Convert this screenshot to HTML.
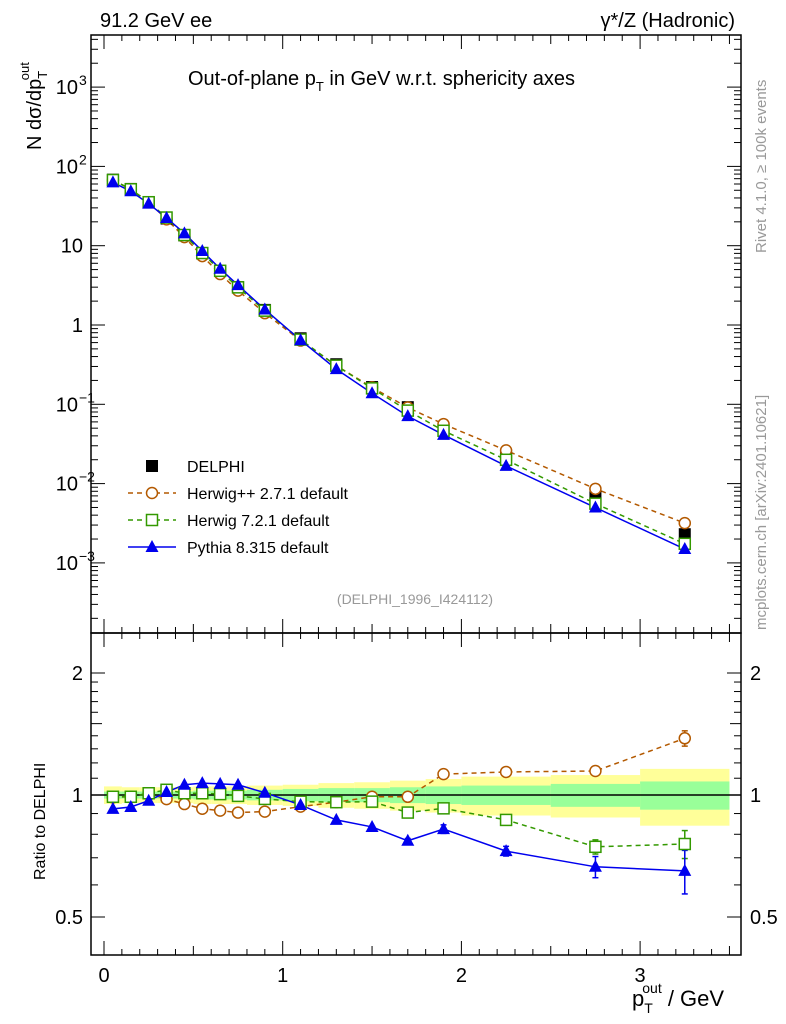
<!DOCTYPE html>
<html><head><meta charset="utf-8"><style>
body{margin:0;background:#fff}
svg{display:block;font-family:"Liberation Sans",sans-serif}
</style></head><body>
<svg id="c" width="786" height="1024" viewBox="0 0 786 1024"></svg>
<script>
const xs=[0.05,0.15,0.25,0.35,0.45,0.55,0.65,0.75,0.9,1.1,1.3,1.5,1.7,1.9,2.25,2.75,3.25];
const edges=[0,0.1,0.2,0.3,0.4,0.5,0.6,0.7,0.8,1.0,1.2,1.4,1.6,1.8,2.0,2.5,3.0,3.5];
const delphi=[68,52,35,22,13.5,8,4.8,3.0,1.55,0.68,0.32,0.165,0.092,0.05,0.023,0.0075,0.0023];
const statErr=[0.02,0.02,0.02,0.02,0.02,0.025,0.025,0.025,0.03,0.035,0.04,0.04,0.045,0.05,0.055,0.065,0.08];
const totErr=[0.05,0.045,0.045,0.045,0.045,0.05,0.05,0.05,0.055,0.06,0.07,0.075,0.085,0.095,0.11,0.12,0.16];
const hwpp=[0.987,0.99,1.01,0.977,0.95,0.925,0.915,0.905,0.91,0.936,0.96,0.99,0.99,1.126,1.14,1.146,1.38];
const hw7=[0.99,0.99,1.01,1.03,1.01,1.01,1.005,0.995,0.978,0.963,0.96,0.963,0.905,0.927,0.868,0.745,0.757];
const py8=[0.924,0.934,0.968,1.017,1.06,1.07,1.065,1.06,1.013,0.945,0.868,0.834,0.771,0.824,0.727,0.665,0.65];
const hwppErr=[0,0,0,0,0,0,0,0,0,0,0,0,0,0.01,0.01,0.03,0.06];
const hw7Err=[0,0,0,0,0,0,0,0,0,0,0,0,0,0.01,0.01,0.03,0.06];
const py8Err=[0,0,0,0,0,0,0,0,0,0,0,0,0.01,0.02,0.02,0.04,0.08];
const xTicks=[0,1,2,3];

const NS="http://www.w3.org/2000/svg",S=document.getElementById('c');
function el(t,a,p){const e=document.createElementNS(NS,t);for(const k in a)e.setAttribute(k,a[k]);(p||S).appendChild(e);return e;}
const L=91,R=741,T1=35,B1=633,T2=633,B2=955;
const X=v=>104+178.7*v;
const Y=v=>325-79.3*Math.log10(v);
const YR=v=>795-122*Math.log2(v);

for(let i=0;i<xs.length;i++){
 const b=el('rect',{x:X(edges[i]),y:YR(1+totErr[i]),width:X(edges[i+1])-X(edges[i]),height:YR(1-totErr[i])-YR(1+totErr[i]),fill:'#ffff99'});
 
 
}
for(let i=0;i<xs.length;i++){
 const b=el('rect',{x:X(edges[i]),y:YR(1+statErr[i]),width:X(edges[i+1])-X(edges[i]),height:YR(1-statErr[i])-YR(1+statErr[i]),fill:'#99ff99'});
 
 
}
el('line',{x1:L,x2:R,y1:YR(1),y2:YR(1),stroke:'#000','stroke-width':1.5});

el('rect',{x:L,y:T1,width:R-L,height:B1-T1,fill:'none',stroke:'#000','stroke-width':1.5});
el('rect',{x:L,y:T2,width:R-L,height:B2-T2,fill:'none',stroke:'#000','stroke-width':1.5});

for(let v=0;v<=3.5001;v+=0.1){
 const major=Math.abs(v-Math.round(v))<1e-6, mid=Math.abs(v*2-Math.round(v*2))<1e-6;
 const len=major?14:(mid?9:6);
 [[T1,1],[B1,-1],[T2,1],[B2,-1]].forEach(([y,d])=>el('line',{x1:X(v),x2:X(v),y1:y,y2:y+d*len,stroke:'#000'}));
}
xTicks.forEach(v=>{const t=el('text',{x:X(v),y:982,'font-size':20,'text-anchor':'middle'});t.textContent=v;
 });

for(let d=-4;d<=3;d++)for(let m=1;m<=9;m++){
 const v=m*Math.pow(10,d),y=Y(v); if(y<T1||y>B1)continue;
 const len=m==1?14:7;
 el('line',{x1:L,x2:L+len,y1:y,y2:y,stroke:'#000'});el('line',{x1:R,x2:R-len,y1:y,y2:y,stroke:'#000'});
}
const yl=[[1000,'10','3'],[100,'10','2'],[10,'10',''],[1,'1',''],[0.1,'10','−1'],[0.01,'10','−2'],[0.001,'10','−3']];
yl.forEach(([v,b,e])=>{const t=el('text',{x:e?78:83,y:Y(v)+7,'font-size':20,'text-anchor':'end'});t.textContent=b;
 
 if(e){const s=el('text',{x:79,y:Y(v)-2,'font-size':14,'text-anchor':'start'});s.textContent=e;}});

[0.5,0.6,0.7,0.8,0.9,1,1.1,1.2,1.3,1.4,1.5,1.6,1.7,1.8,1.9,2].forEach(v=>{
 const y=YR(v),len=(v==0.5||v==1||v==2)?14:(v==1.5?11:7);
 el('line',{x1:L,x2:L+len,y1:y,y2:y,stroke:'#000'});el('line',{x1:R,x2:R-len,y1:y,y2:y,stroke:'#000'});});
[[2,'2'],[1,'1'],[0.5,'0.5']].forEach(([v,s])=>{
 let t=el('text',{x:83,y:YR(v)+7,'font-size':20,'text-anchor':'end'});t.textContent=s;
 
 t=el('text',{x:750,y:YR(v)+7,'font-size':20});t.textContent=s;});

const series=[
 {r:hwpp,e:hwppErr,c:'#b35900',dash:'5,4',m:'circle',name:'herwigpp'},
 {r:hw7,e:hw7Err,c:'#339900',dash:'5,4',m:'square',name:'herwig7'},
 {r:py8,e:py8Err,c:'#0000ee',dash:'',m:'tri',name:'pythia8'}];
function marker(m,x,y,c,nm){
 let e;
 if(m=='circle')e=el('circle',{cx:x,cy:y,r:5.5,fill:'#fff',stroke:c,'stroke-width':1.5});
 else if(m=='square')e=el('rect',{x:x-5.5,y:y-5.5,width:11,height:11,fill:'#fff',stroke:c,'stroke-width':1.5});
 else if(m=='tri')e=el('path',{d:`M${x},${y-7}L${x+6.5},${y+5}L${x-6.5},${y+5}Z`,fill:c});
 else e=el('rect',{x:x-6,y:y-6,width:12,height:12,fill:'#000'});
 
 
}
series.forEach(s=>{
 const mc=xs.map((x,i)=>delphi[i]*s.r[i]);
 let e=el('polyline',{points:xs.map((x,i)=>X(x)+','+Y(mc[i])).join(' '),fill:'none',stroke:s.c,'stroke-width':1.5,'stroke-dasharray':s.dash});
 
 e=el('polyline',{points:xs.map((x,i)=>X(x)+','+YR(s.r[i])).join(' '),fill:'none',stroke:s.c,'stroke-width':1.5,'stroke-dasharray':s.dash});
 
 xs.forEach((x,i)=>{if(s.e[i]>0){const y1=YR(s.r[i]+s.e[i]),y2=YR(s.r[i]-s.e[i]);
  el('line',{x1:X(x),x2:X(x),y1:y1,y2:y2,stroke:s.c,'stroke-width':1.5});
  el('line',{x1:X(x)-3,x2:X(x)+3,y1:y1,y2:y1,stroke:s.c,'stroke-width':1.5});
  el('line',{x1:X(x)-3,x2:X(x)+3,y1:y2,y2:y2,stroke:s.c,'stroke-width':1.5});}});
});
xs.forEach((x,i)=>marker('data',X(x),Y(delphi[i]),'#000','delphi-point'));
series.forEach(s=>xs.forEach((x,i)=>{marker(s.m,X(x),Y(delphi[i]*s.r[i]),s.c,s.name+'-point');marker(s.m,X(x),YR(s.r[i]),s.c,s.name+'-ratio-point');}));

const leg=[['data','#000','','DELPHI'],['circle','#b35900','5,4','Herwig++ 2.7.1 default'],['square','#339900','5,4','Herwig 7.2.1 default'],['tri','#0000ee','','Pythia 8.315 default']];
leg.forEach((l,i)=>{const y=466+i*27;
 if(l[0]!='data')el('line',{x1:128,x2:176,y1:y,y2:y,stroke:l[1],'stroke-width':1.5,'stroke-dasharray':l[2]});
 marker(l[0],152,y,l[1],'legend-marker');
 const t=el('text',{x:187,y:y+6,'font-size':16});t.textContent=l[3];
 });

function txt(x,y,s,a){const t=el('text',Object.assign({x:x,y:y},a));t.textContent=s;return t;}
let t=txt(100,27,'91.2 GeV ee',{'font-size':20});
t=txt(735,27,'γ*/Z (Hadronic)',{'font-size':20,'text-anchor':'end'});
t=el('text',{x:188,y:85,'font-size':20});
t.innerHTML='Out-of-plane p<tspan dy="6" font-size="13">T</tspan><tspan dy="-6"> in GeV w.r.t. sphericity axes</tspan>';
t=txt(415,604,'(DELPHI_1996_I424112)',{'font-size':14,fill:'#999','text-anchor':'middle'});
t=el('text',{transform:'translate(41,150) rotate(-90)','font-size':20});
t.innerHTML='N  dσ/dp<tspan dy="6" font-size="13">T</tspan><tspan dx="-8" dy="-18" font-size="13">out</tspan>';
t=txt(0,0,'Ratio to DELPHI',{'font-size':16,transform:'translate(45,880) rotate(-90)'});
t=el('text',{x:632,y:1006,'font-size':22});
t.innerHTML='p<tspan dy="7" font-size="14">T</tspan><tspan dx="-9" dy="-20" font-size="14">out</tspan><tspan dy="13"> / GeV</tspan>';
t=txt(0,0,'Rivet 4.1.0, ≥ 100k events',{'font-size':15,fill:'#999',transform:'translate(766,253) rotate(-90)'});
t=txt(0,0,'mcplots.cern.ch [arXiv:2401.10621]',{'font-size':15,fill:'#999',transform:'translate(766,630) rotate(-90)'});
</script>
</body></html>
